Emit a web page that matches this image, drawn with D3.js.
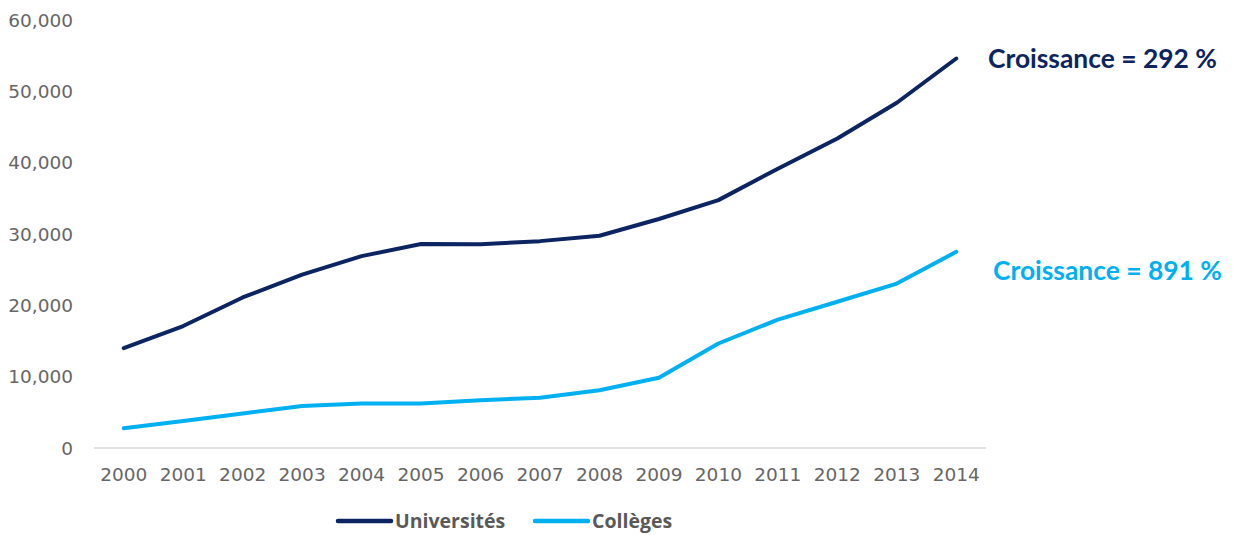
<!DOCTYPE html>
<html>
<head>
<meta charset="utf-8">
<script src="https://cdn.jsdelivr.net/npm/d3@7"></script>
<style>
  body { margin: 0; background: #fff; }
  svg { display: block; }
</style>
</head>
<body>
<div id="chart"></div>
<script>
// years and the two series
var years = ["2000","2001","2002","2003","2004","2005","2006","2007","2008","2009","2010","2011","2012","2013","2014"];
var universites = [14000, 17100, 21100, 24300, 26900, 28600, 28550, 29000, 29750, 32100, 34750, 39150, 43400, 48400, 54600];
var colleges = [2760, 3800, 4850, 5900, 6250, 6250, 6700, 7050, 8100, 9850, 14650, 18000, 20500, 23050, 27500];
var yTicks = [0, 10000, 20000, 30000, 40000, 50000, 60000];
var seriesNames = ["Universités", "Collèges"];
var growthLabels = ["Croissance = 292 %", "Croissance = 891 %"];

var w = 1234;
var h = 535;
var navy = "#0c2461";
var sky = "#00b0f0";
var grey = "#666666";

var svg = d3.select("#chart")
  .append("svg")
  .attr("width", w)
  .attr("height", h)

const x = d3.scalePoint()
  .domain(years)
  .range([94, 986])
  .padding(0.5)

const y = d3.scaleLinear()
  .domain([0, 60000])
  .range([448, 20])

// baseline
svg.append("line")
  .attr("x1", 94).attr("x2", 986)
  .attr("y1", y(0)).attr("y2", y(0))
  .attr("stroke", "#d9d9d9")
  .attr("stroke-width", 1.5)

// y labels
svg.append("g")
  .selectAll("text")
  .data(yTicks)
  .enter()
  .append("text")
  .attr("x", 73)
  .attr("y", d => y(d))
  .attr("dy", "0.36em")
  .attr("text-anchor", "end")
  .attr("font-family", "DejaVu Sans")
  .attr("font-size", 18.5)
  .attr("fill", grey)
  .text(d => d3.format(",")(d))

// x labels
svg.append("g")
  .selectAll("text")
  .data(years)
  .enter()
  .append("text")
  .attr("x", d => x(d))
  .attr("y", 474)
  .attr("dy", "0.36em")
  .attr("text-anchor", "middle")
  .attr("font-family", "DejaVu Sans")
  .attr("font-size", 18.5)
  .attr("fill", grey)
  .text(d => d)

var line = d3.line()
  .x((d, i) => x(years[i]))
  .y(d => y(d))

svg.append("path")
  .datum(universites)
  .attr("d", line)
  .attr("fill", "none")
  .attr("stroke", navy)
  .attr("stroke-width", 4)
  .attr("stroke-linecap", "round")
  .attr("stroke-linejoin", "round")

svg.append("path")
  .datum(colleges)
  .attr("d", line)
  .attr("fill", "none")
  .attr("stroke", sky)
  .attr("stroke-width", 4)
  .attr("stroke-linecap", "round")
  .attr("stroke-linejoin", "round")

// growth annotations
svg.append("text")
  .attr("x", 988)
  .attr("y", 58)
  .attr("dy", "0.36em")
  .attr("font-family", "Lato")
  .attr("font-weight", "bold")
  .attr("font-size", 26.4)
  .attr("fill", navy)
  .text(growthLabels[0])

svg.append("text")
  .attr("x", 993)
  .attr("y", 270)
  .attr("dy", "0.36em")
  .attr("font-family", "Lato")
  .attr("font-weight", "bold")
  .attr("font-size", 26.4)
  .attr("fill", sky)
  .text(growthLabels[1])

// legend (kept a little higher than the reference so the text is not clipped)
var legendX = [338, 535];
var legendCol = [navy, sky];
var leg = svg.append("g")
  .selectAll("g")
  .data(seriesNames)
  .enter()
  .append("g")
  .attr("transform", (d, i) => `translate(${legendX[i]},521)`)

leg.append("line")
  .attr("x1", 0).attr("x2", 53)
  .attr("stroke", (d, i) => legendCol[i])
  .attr("stroke-width", 4.5)
  .attr("stroke-linecap", "round")

leg.append("text")
  .attr("x", 57)
  .attr("dy", "0.36em")
  .attr("font-family", "Open Sans")
  .attr("font-weight", "bold")
  .attr("font-size", 19.5)
  .attr("fill", "#595959")
  .text(d => d)
</script>
</body>
</html>
